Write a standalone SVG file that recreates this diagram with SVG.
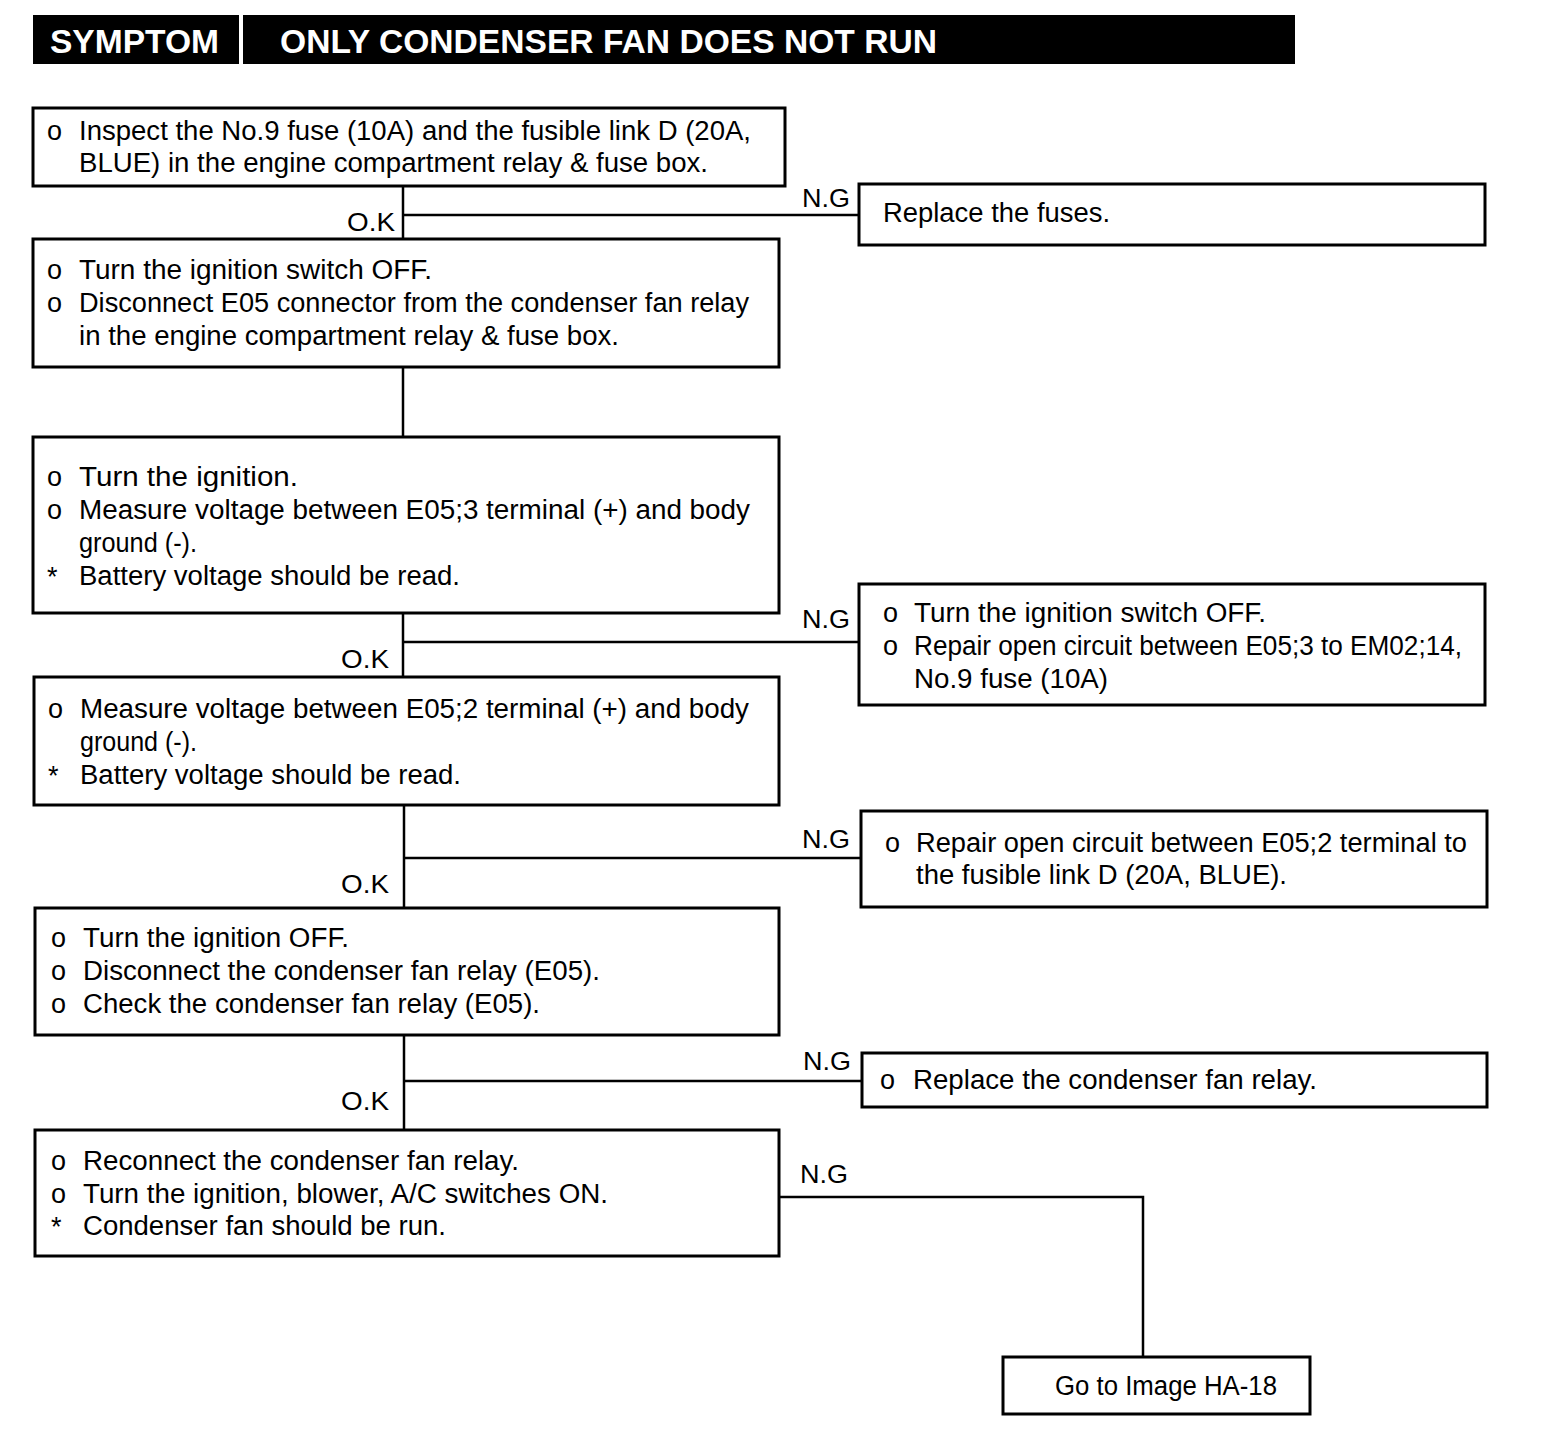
<svg xmlns="http://www.w3.org/2000/svg" width="1568" height="1440" viewBox="0 0 1568 1440">
<style>
.box{fill:#fff;stroke:#000;stroke-width:3}
.ln{fill:none;stroke:#000;stroke-width:2.5}
text{font-family:"Liberation Sans",Arial,sans-serif;font-size:27px;fill:#000}
.hd{fill:#fff;font-size:33px;font-weight:bold}
.lb{font-size:26px}
</style>
<rect width="1568" height="1440" fill="#fff"/>
<g id="header">
<rect x="33" y="15" width="1262" height="49" fill="#000"/>
<rect x="239" y="15" width="4" height="49" fill="#fff"/>
<text class="hd" x="50" y="53" textLength="169" lengthAdjust="spacingAndGlyphs">SYMPTOM</text>
<text class="hd" x="280" y="53" textLength="657" lengthAdjust="spacingAndGlyphs">ONLY CONDENSER FAN DOES NOT RUN</text>
</g>
<g id="connectors">
<polyline class="ln" points="403,186 403,238"/>
<polyline class="ln" points="403,215 859,215"/>
<polyline class="ln" points="403,367 403,437"/>
<polyline class="ln" points="403,613 403,677"/>
<polyline class="ln" points="403,642 859,642"/>
<polyline class="ln" points="404,805 404,908"/>
<polyline class="ln" points="404,858 861,858"/>
<polyline class="ln" points="404,1035 404,1130"/>
<polyline class="ln" points="404,1081 862,1081"/>
<polyline class="ln" points="779,1197 1143,1197 1143,1357"/>
<text class="lb" x="802" y="207" textLength="48" lengthAdjust="spacingAndGlyphs">N.G</text>
<text class="lb" x="347" y="231" textLength="48" lengthAdjust="spacingAndGlyphs">O.K</text>
<text class="lb" x="802" y="628" textLength="48" lengthAdjust="spacingAndGlyphs">N.G</text>
<text class="lb" x="341" y="668" textLength="48" lengthAdjust="spacingAndGlyphs">O.K</text>
<text class="lb" x="802" y="848" textLength="48" lengthAdjust="spacingAndGlyphs">N.G</text>
<text class="lb" x="341" y="893" textLength="48" lengthAdjust="spacingAndGlyphs">O.K</text>
<text class="lb" x="803" y="1070" textLength="48" lengthAdjust="spacingAndGlyphs">N.G</text>
<text class="lb" x="341" y="1110" textLength="48" lengthAdjust="spacingAndGlyphs">O.K</text>
<text class="lb" x="800" y="1183" textLength="48" lengthAdjust="spacingAndGlyphs">N.G</text>
</g>
<g id="n1">
<rect class="box" x="33" y="108" width="752" height="78"/>
<text x="47" y="140">o</text>
<text x="79" y="140" textLength="672" lengthAdjust="spacingAndGlyphs">Inspect the No.9 fuse (10A) and the fusible link D (20A,</text>
<text x="79" y="172" textLength="629" lengthAdjust="spacingAndGlyphs">BLUE) in the engine compartment relay &amp; fuse box.</text>
</g>
<g id="ng1">
<rect class="box" x="859" y="184" width="626" height="61"/>
<text x="883" y="222" textLength="227" lengthAdjust="spacingAndGlyphs">Replace the fuses.</text>
</g>
<g id="n2">
<rect class="box" x="33" y="239" width="746" height="128"/>
<text x="47" y="279">o</text>
<text x="79" y="279" textLength="353" lengthAdjust="spacingAndGlyphs">Turn the ignition switch OFF.</text>
<text x="47" y="312">o</text>
<text x="79" y="312" textLength="670" lengthAdjust="spacingAndGlyphs">Disconnect E05 connector from the condenser fan relay</text>
<text x="79" y="345" textLength="540" lengthAdjust="spacingAndGlyphs">in the engine compartment relay &amp; fuse box.</text>
</g>
<g id="n3">
<rect class="box" x="33" y="437" width="746" height="176"/>
<text x="47" y="486">o</text>
<text x="79" y="486" textLength="219" lengthAdjust="spacingAndGlyphs">Turn the ignition.</text>
<text x="47" y="519">o</text>
<text x="79" y="519" textLength="671" lengthAdjust="spacingAndGlyphs">Measure voltage between E05;3 terminal (+) and body</text>
<text x="79" y="552" textLength="118" lengthAdjust="spacingAndGlyphs">ground (-).</text>
<text x="47" y="586">*</text>
<text x="79" y="585" textLength="381" lengthAdjust="spacingAndGlyphs">Battery voltage should be read.</text>
</g>
<g id="ng2">
<rect class="box" x="859" y="584" width="626" height="121"/>
<text x="883" y="622">o</text>
<text x="914" y="622" textLength="352" lengthAdjust="spacingAndGlyphs">Turn the ignition switch OFF.</text>
<text x="883" y="655">o</text>
<text x="914" y="655" textLength="548" lengthAdjust="spacingAndGlyphs">Repair open circuit between E05;3 to EM02;14,</text>
<text x="914" y="688" textLength="194" lengthAdjust="spacingAndGlyphs">No.9 fuse (10A)</text>
</g>
<g id="n4">
<rect class="box" x="34" y="677" width="745" height="128"/>
<text x="48" y="718">o</text>
<text x="80" y="718" textLength="669" lengthAdjust="spacingAndGlyphs">Measure voltage between E05;2 terminal (+) and body</text>
<text x="80" y="751" textLength="117" lengthAdjust="spacingAndGlyphs">ground (-).</text>
<text x="48" y="785">*</text>
<text x="80" y="784" textLength="381" lengthAdjust="spacingAndGlyphs">Battery voltage should be read.</text>
</g>
<g id="ng3">
<rect class="box" x="861" y="811" width="626" height="96"/>
<text x="885" y="852">o</text>
<text x="916" y="852" textLength="551" lengthAdjust="spacingAndGlyphs">Repair open circuit between E05;2 terminal to</text>
<text x="916" y="884" textLength="371" lengthAdjust="spacingAndGlyphs">the fusible link D (20A, BLUE).</text>
</g>
<g id="n5">
<rect class="box" x="35" y="908" width="744" height="127"/>
<text x="51" y="947">o</text>
<text x="83" y="947" textLength="266" lengthAdjust="spacingAndGlyphs">Turn the ignition OFF.</text>
<text x="51" y="980">o</text>
<text x="83" y="980" textLength="517" lengthAdjust="spacingAndGlyphs">Disconnect the condenser fan relay (E05).</text>
<text x="51" y="1013">o</text>
<text x="83" y="1013" textLength="457" lengthAdjust="spacingAndGlyphs">Check the condenser fan relay (E05).</text>
</g>
<g id="ng4">
<rect class="box" x="862" y="1053" width="625" height="54"/>
<text x="880" y="1089">o</text>
<text x="913" y="1089" textLength="404" lengthAdjust="spacingAndGlyphs">Replace the condenser fan relay.</text>
</g>
<g id="n6">
<rect class="box" x="35" y="1130" width="744" height="126"/>
<text x="51" y="1170">o</text>
<text x="83" y="1170" textLength="436" lengthAdjust="spacingAndGlyphs">Reconnect the condenser fan relay.</text>
<text x="51" y="1203">o</text>
<text x="83" y="1203" textLength="525" lengthAdjust="spacingAndGlyphs">Turn the ignition, blower, A/C switches ON.</text>
<text x="51" y="1236">*</text>
<text x="83" y="1235" textLength="363" lengthAdjust="spacingAndGlyphs">Condenser fan should be run.</text>
</g>
<g id="goto">
<rect class="box" x="1003" y="1357" width="307" height="57"/>
<text x="1055" y="1395" textLength="222" lengthAdjust="spacingAndGlyphs">Go to Image HA-18</text>
</g>
</svg>
